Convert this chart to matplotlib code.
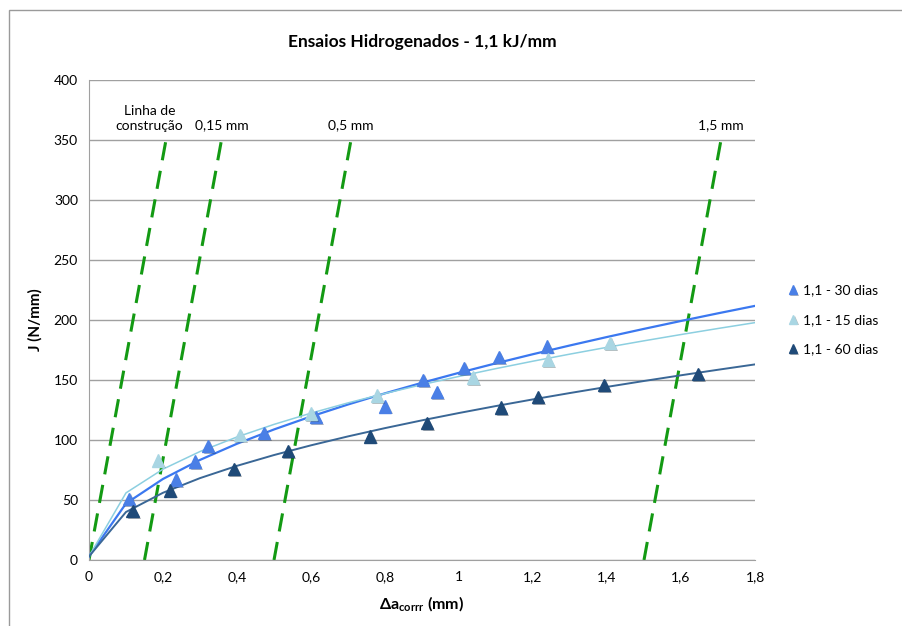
import matplotlib
matplotlib.use("Agg")
import matplotlib.pyplot as plt
import matplotlib.patheffects as pe
import numpy as np

plt.rcParams["font.family"] = ["Lato", "DejaVu Sans"]
plt.rcParams["mathtext.fontset"] = "custom"
plt.rcParams["mathtext.rm"] = "Lato"
plt.rcParams["mathtext.bf"] = "Lato:bold"

# data
da_30 = [0.108, 0.235, 0.287, 0.322, 0.473, 0.613, 0.800, 0.903, 0.940, 1.014, 1.108, 1.238]
j_30 = [51, 67, 82, 95, 106, 119, 128, 150, 140, 160, 169, 178]

da_15 = [0.186, 0.408, 0.600, 0.778, 1.038, 1.240, 1.408]
j_15 = [83, 104, 122, 137, 152, 167, 181]

da_60 = [0.118, 0.219, 0.392, 0.538, 0.760, 0.914, 1.114, 1.213, 1.392, 1.646]
j_60 = [41, 58, 76, 91, 103, 114, 127, 136, 146, 155]

# power trend lines J = C * da^n, coefficients
trend_c = [156.0, 153.0, 122.5]
trend_n = [0.52, 0.437, 0.486]

# construction (blunting) line and offset lines
offsets = [0.0, 0.15, 0.5, 1.5]
offset_labels = ["Linha de\nconstrução", "0,15 mm", "0,5 mm", "1,5 mm"]
blunt_slope = 1682.0  # N/mm per mm
j_top = 350

series = [
    ("1,1 - 30 dias", da_30, j_30, "#4a7fe6", "#3b78f0", 1.6),
    ("1,1 - 15 dias", da_15, j_15, "#a9d6e3", "#8ccfe0", 1.1),
    ("1,1 - 60 dias", da_60, j_60, "#1f4a78", "#3a6796", 1.4),
]

fig = plt.figure(figsize=(9.03, 6.26), dpi=100)
ax = fig.add_axes([89 / 903, 1 - 560 / 626, (755 - 89) / 903, (560 - 80) / 626])

# chart-area frame (only left/top visible in the reference)
fig.patches.append(plt.Rectangle((9 / 903, -0.1), 1.2, 1 - 10 / 626 + 0.1,
                                 transform=fig.transFigure, fill=False,
                                 ec="#9a9a9a", lw=1.0))

ax.set_xlim(0, 1.8)
ax.set_ylim(0, 400)
ax.set_yticks(np.arange(0, 401, 50))
ax.set_xticks(np.arange(0, 1.81, 0.2))
ax.set_xticklabels(["0", "0,2", "0,4", "0,6", "0,8", "1", "1,2", "1,4", "1,6", "1,8"])
ax.grid(axis="y", color="#a0a0a0", lw=1.0)
ax.set_axisbelow(True)
for s in ["top", "right"]:
    ax.spines[s].set_visible(False)
for s in ["left", "bottom"]:
    ax.spines[s].set_color("#a0a0a0")
ax.tick_params(length=0, labelsize=10, pad=8)

# green dashed construction lines
for off, lab in zip(offsets, offset_labels):
    xs = np.array([off, off + j_top / blunt_slope])
    ax.plot(xs, [0, j_top], color="#139a13", lw=2.2, dashes=(6, 3.5), zorder=2)
    ax.text(xs[1] - (0.045 if off == 0 else 0), j_top + 7, lab, ha="center",
            va="bottom", fontsize=10, linespacing=1.25)

# trend lines, then markers
xfit = np.linspace(0.1, 1.8, 18)
shadow = [pe.SimplePatchShadow(offset=(1.2, -1.2), alpha=0.35), pe.Normal()]
for (label, xs, ys, mc, lc, lw), c, n in zip(series, trend_c, trend_n):
    ax.plot(np.r_[0, xfit], np.r_[3, c * xfit ** n], color=lc, lw=lw, zorder=3)
for label, xs, ys, mc, lc, lw in series:
    ax.plot(xs, ys, ls="none", marker="^", ms=9, color=mc, mec=mc, label=label,
            zorder=4, path_effects=shadow)

ax.set_title("Ensaios Hidrogenados - 1,1 kJ/mm", fontsize=12.5, fontweight="bold", pad=24)
ax.set_ylabel("J (N/mm)", fontsize=11, fontweight="bold", labelpad=8)
ax.set_xlabel(r"$\mathbf{\Delta a_{corrr}}$ (mm)", fontsize=11.5, fontweight="bold", labelpad=8)

leg = ax.legend(loc="center left", bbox_to_anchor=(1.03, 0.5), frameon=False,
                fontsize=10, handlelength=0.8, handletextpad=0.3, labelspacing=1.25,
                markerscale=0.7)

fig.savefig("out.png", dpi=100)
